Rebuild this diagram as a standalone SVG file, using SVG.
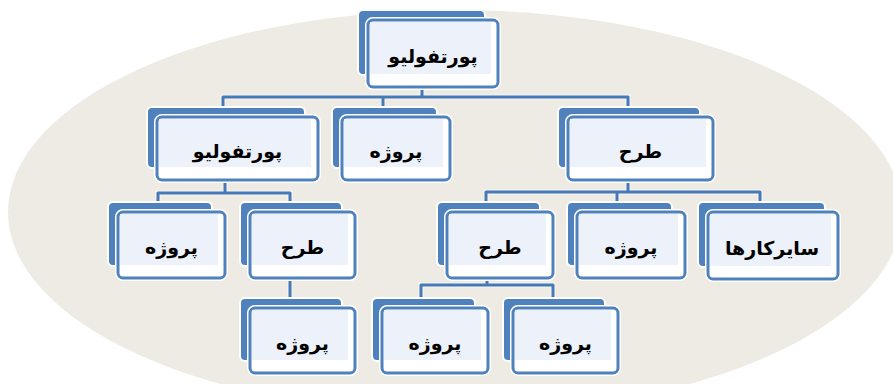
<svg xmlns="http://www.w3.org/2000/svg" width="893" height="384" viewBox="0 0 893 384">
<style>
.bg{fill:#EDEBE3}
.back{fill:#4F81BD;stroke:#fff;stroke-width:2}
.halo{fill:none;stroke:#fff;stroke-width:6}
.front{fill:#fff;stroke:#4F81BD;stroke-width:3}
.inner{fill:#EDF1F9}
.lbl{font-family:"DejaVu Sans",sans-serif;font-weight:bold;font-size:19px;fill:#000;text-anchor:middle;dominant-baseline:central}
.connh{fill:none;stroke:#fff;stroke-width:5;stroke-opacity:.5}
.conn{fill:none;stroke:#4679B8;stroke-width:3;stroke-linejoin:round}
</style>
<rect width="893" height="384" fill="#fff"/>
<ellipse class="bg" cx="455" cy="212" rx="447" ry="202"/>
<g id="connectors">
<path class="connh" d="M422,87V97M223,107V97H628V107M383,97V107M225,180V193M158,202V193H290V202M628,180V192M486,202V192H760V202M617,192V202M290,278V298M487,278V285M421,298V285H553V298"/>
<path class="conn" d="M422,87V97M223,107V97H628V107M383,97V107M225,180V193M158,202V193H290V202M628,180V192M486,202V192H760V202M617,192V202M290,278V298M487,278V285M421,298V285H553V298"/>
</g>
<g id="n1"><rect class="back" x="358" y="10" width="127" height="65" rx="5"/><rect class="halo" x="368" y="20" width="130" height="67" rx="5"/><rect class="front" x="368" y="20" width="130" height="67" rx="5"/><rect class="inner" x="370" y="22" width="121" height="52"/><text class="lbl" x="433" y="55.5">پورتفولیو</text></g>
<g id="n2a"><rect class="back" x="147" y="107" width="158" height="61" rx="5"/><rect class="halo" x="157" y="117" width="161" height="63" rx="5"/><rect class="front" x="157" y="117" width="161" height="63" rx="5"/><rect class="inner" x="159" y="119" width="152" height="48"/><text class="lbl" x="237.5" y="150.5">پورتفولیو</text></g>
<g id="n2b"><rect class="back" x="332" y="107" width="105" height="61" rx="5"/><rect class="halo" x="342" y="117" width="108" height="63" rx="5"/><rect class="front" x="342" y="117" width="108" height="63" rx="5"/><rect class="inner" x="344" y="119" width="99" height="48"/><text class="lbl" x="396" y="150.5">پروژه</text></g>
<g id="n2c"><rect class="back" x="558" y="107" width="142" height="61" rx="5"/><rect class="halo" x="568" y="117" width="145" height="63" rx="5"/><rect class="front" x="568" y="117" width="145" height="63" rx="5"/><rect class="inner" x="570" y="119" width="136" height="48"/><text class="lbl" x="640.5" y="150.5">طرح</text></g>
<g id="n3a"><rect class="back" x="108" y="202" width="104" height="64" rx="5"/><rect class="halo" x="118" y="212" width="107" height="66" rx="5"/><rect class="front" x="118" y="212" width="107" height="66" rx="5"/><rect class="inner" x="120" y="214" width="98" height="51"/><text class="lbl" x="171.5" y="247">پروژه</text></g>
<g id="n3b"><rect class="back" x="240" y="202" width="102" height="64" rx="5"/><rect class="halo" x="250" y="212" width="105" height="66" rx="5"/><rect class="front" x="250" y="212" width="105" height="66" rx="5"/><rect class="inner" x="252" y="214" width="96" height="51"/><text class="lbl" x="302.5" y="247">طرح</text></g>
<g id="n3c"><rect class="back" x="437" y="202" width="103" height="64" rx="5"/><rect class="halo" x="447" y="212" width="106" height="66" rx="5"/><rect class="front" x="447" y="212" width="106" height="66" rx="5"/><rect class="inner" x="449" y="214" width="97" height="51"/><text class="lbl" x="500" y="247">طرح</text></g>
<g id="n3d"><rect class="back" x="567" y="202" width="105" height="64" rx="5"/><rect class="halo" x="577" y="212" width="108" height="66" rx="5"/><rect class="front" x="577" y="212" width="108" height="66" rx="5"/><rect class="inner" x="579" y="214" width="99" height="51"/><text class="lbl" x="631" y="247">پروژه</text></g>
<g id="n3e"><rect class="back" x="698" y="202" width="127" height="65" rx="5"/><rect class="halo" x="708" y="212" width="130" height="67" rx="5"/><rect class="front" x="708" y="212" width="130" height="67" rx="5"/><rect class="inner" x="710" y="214" width="121" height="52"/><text class="lbl" x="772" y="247.5">سایرکارها</text></g>
<g id="n4a"><rect class="back" x="240" y="298" width="102" height="63" rx="5"/><rect class="halo" x="250" y="308" width="105" height="65" rx="5"/><rect class="front" x="250" y="308" width="105" height="65" rx="5"/><rect class="inner" x="252" y="310" width="96" height="50"/><text class="lbl" x="302.5" y="342.5">پروژه</text></g>
<g id="n4b"><rect class="back" x="372" y="298" width="103" height="63" rx="5"/><rect class="halo" x="382" y="308" width="106" height="65" rx="5"/><rect class="front" x="382" y="308" width="106" height="65" rx="5"/><rect class="inner" x="384" y="310" width="97" height="50"/><text class="lbl" x="435" y="342.5">پروژه</text></g>
<g id="n4c"><rect class="back" x="503" y="298" width="102" height="63" rx="5"/><rect class="halo" x="513" y="308" width="105" height="65" rx="5"/><rect class="front" x="513" y="308" width="105" height="65" rx="5"/><rect class="inner" x="515" y="310" width="96" height="50"/><text class="lbl" x="565.5" y="342.5">پروژه</text></g>
</svg>
